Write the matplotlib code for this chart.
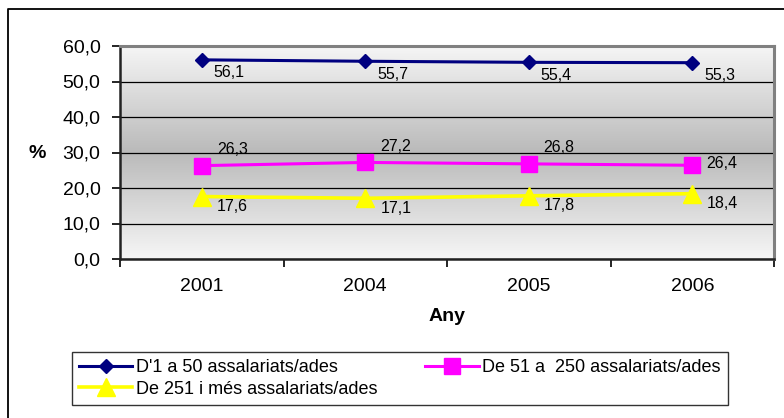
import numpy as np
import matplotlib
matplotlib.use('Agg')
import matplotlib.pyplot as plt
from matplotlib.lines import Line2D
from matplotlib.colors import LinearSegmentedColormap

plt.rcParams['font.family'] = ['Liberation Sans', 'DejaVu Sans']

years = ['2001', '2004', '2005', '2006']
small = [56.1, 55.7, 55.4, 55.3]
medium = [26.3, 27.2, 26.8, 26.4]
large = [17.6, 17.1, 17.8, 18.4]
names = ["D'1 a 50 assalariats/ades",
         'De 51 a  250 assalariats/ades',
         'De 251 i més assalariats/ades']


def fmt(v):
    return f'{v:.1f}'.replace('.', ',')


fig = plt.figure(figsize=(7.84, 4.18), dpi=100)
ax = fig.add_axes([120 / 784, 1 - 259 / 418, 654 / 784, 213 / 418])

# plot area gradient: light at top and bottom, grey in the middle
cmap = LinearSegmentedColormap.from_list(
    'bg', [(0.0, '#f6f6f6'), (0.5, '#bababa'), (1.0, '#f6f6f6')])
grad = np.linspace(0, 1, 256).reshape(-1, 1)
ax.imshow(grad, cmap=cmap, aspect='auto', extent=(0, 1, 0, 1),
          transform=ax.transAxes, zorder=0)

x = np.arange(len(years))
ax.plot(x, small, color='#000080', lw=2.2, marker='D', ms=7.5, zorder=5,
        label=names[0])
ax.plot(x, medium, color='#ff00ff', lw=2.2, marker='s', ms=11, zorder=5,
        label=names[1])
ax.plot(x, large, color='#ffff00', lw=2.6, marker='^', ms=12.5, zorder=5,
        label=names[2])

# data labels
lab_size = 11.5
for i, v in enumerate(small):
    ax.annotate(fmt(v), (x[i], v), xytext=(12, -13), textcoords='offset pixels',
                ha='left', va='center', fontsize=lab_size, zorder=6)
for i, v in enumerate(medium):
    off = (14, 2) if i == len(medium) - 1 else (15, 16)
    ax.annotate(fmt(v), (x[i], v), xytext=off, textcoords='offset pixels',
                ha='left', va='center', fontsize=lab_size, zorder=6)
for i, v in enumerate(large):
    ax.annotate(fmt(v), (x[i], v), xytext=(15, -10), textcoords='offset pixels',
                ha='left', va='center', fontsize=lab_size, zorder=6)

ax.set_ylim(0, 60)
ax.set_xlim(-0.5, len(years) - 0.5)
ax.set_yticks(np.arange(0, 61, 10))
ax.set_yticklabels([fmt(v) for v in np.arange(0, 61, 10)], fontsize=14)
ax.yaxis.grid(True, color='black', lw=0.9, zorder=1)
ax.set_axisbelow(True)

ax.set_xticks(np.arange(-0.5, len(years), 1.0))
ax.set_xticklabels([])
ax.set_xticks(x, minor=True)
ax.set_xticklabels(years, minor=True, fontsize=14)
ax.tick_params(axis='x', which='minor', length=0, pad=14)
ax.tick_params(axis='both', which='major', length=6, width=1.2, color='black')
ax.tick_params(axis='y', pad=8)

for side in ['top', 'right']:
    ax.spines[side].set_color('#808080')
    ax.spines[side].set_linewidth(2.2)
for side in ['left', 'bottom']:
    ax.spines[side].set_color('#222222')
    ax.spines[side].set_linewidth(1.8)

ax.set_xlabel('Any', fontsize=14, fontweight='bold', labelpad=9)
fig.text(37 / 784, 1 - 153 / 418, '%', fontsize=14, fontweight='bold',
         ha='center', va='center')

# legend in row order
handles, labels = ax.get_legend_handles_labels()
order = [0, 2, 1]
leg = fig.legend([handles[i] for i in order], [labels[i] for i in order],
                 ncol=2, loc='upper center', mode='expand',
                 bbox_to_anchor=(72 / 784, 1 - 406 / 418, 656 / 784, 54 / 418),
                 fontsize=13, frameon=True, fancybox=False, borderaxespad=0,
                 handlelength=2.95, handletextpad=0.2, labelspacing=0.25,
                 borderpad=0.4, columnspacing=1.0)
leg.get_frame().set_edgecolor('black')
leg.get_frame().set_linewidth(1.0)

# outer chart frame (cut off at right and bottom)
fig.add_artist(Line2D([8 / 784, 8 / 784, 1.0], [0.0, 1 - 9 / 418, 1 - 9 / 418],
                      transform=fig.transFigure, color='black', lw=1.3))

fig.savefig('out.png', dpi=100)
